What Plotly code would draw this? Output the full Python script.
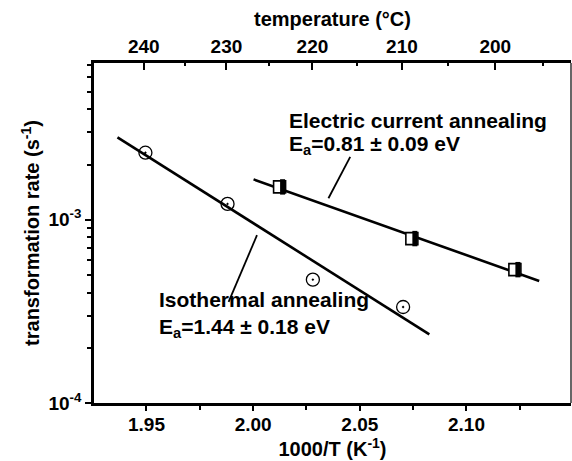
import plotly.graph_objects as go

# Isothermal annealing: rate vs inverse temperature
iso_inv_T = [1.9495, 1.988, 2.028, 2.0703]
iso_rate = [2.32e-3, 1.22e-3, 4.71e-4, 3.34e-4]
iso_fit_x = [1.9364, 2.0826]
iso_fit_y = [2.81e-3, 2.37e-4]

# Electric current annealing
ec_inv_T = [2.0124, 2.0744, 2.1227]
ec_rate = [1.51e-3, 7.89e-4, 5.34e-4]
ec_fit_x = [2.0002, 2.1341]
ec_fit_y = [1.66e-3, 4.63e-4]

# leader lines from labels to fits
ec_lead_x = [2.0455, 2.0353]
ec_lead_y = [2.20e-3, 1.31e-3]
iso_lead_x = [2.0018, 1.9885]
iso_lead_y = [8.23e-4, 3.56e-4]

x_ticks = [1.95, 2.00, 2.05, 2.10]
y_ticks = [1e-4, 1e-3, 1e-2]
y_ticktext = ["10<sup>-4</sup>", "10<sup>-3</sup>", "10<sup>-2</sup>"]
temp_ticks = [240, 230, 220, 210, 200]
temp_minor = [235, 225, 215, 205, 195]

X_RANGE = [1.9254, 2.149]
Y_RANGE = [-4, -2.145]


def inv_T(celsius):
    """1000/T in K^-1 for a temperature in degrees Celsius."""
    return 1000.0 / (celsius + 273.15)


W, H = 572, 461
M = dict(l=94, r=1, t=63, b=58)
plot_w = W - M["l"] - M["r"]
# small pixel shift used to draw the filled half of the square markers
shift = 3 * (X_RANGE[1] - X_RANGE[0]) / plot_w

FONT = "Liberation Sans, Arial, sans-serif"
BLACK = "#000000"

fig = go.Figure()

fig.add_trace(go.Scatter(x=iso_fit_x, y=iso_fit_y, mode="lines",
                         line=dict(color=BLACK, width=2.6), showlegend=False))
fig.add_trace(go.Scatter(x=ec_fit_x, y=ec_fit_y, mode="lines",
                         line=dict(color=BLACK, width=2.6), showlegend=False))
fig.add_trace(go.Scatter(x=ec_lead_x, y=ec_lead_y, mode="lines",
                         line=dict(color=BLACK, width=1.8), showlegend=False))
fig.add_trace(go.Scatter(x=iso_lead_x, y=iso_lead_y, mode="lines",
                         line=dict(color=BLACK, width=1.8), showlegend=False))

fig.add_trace(go.Scatter(x=iso_inv_T, y=iso_rate, mode="markers",
                         marker=dict(symbol="circle-open-dot", size=13, color=BLACK,
                                     line=dict(width=1.3, color=BLACK)),
                         showlegend=False))

fig.add_trace(go.Scatter(x=ec_inv_T, y=ec_rate, mode="markers",
                         marker=dict(symbol="square", size=12, color="white",
                                     line=dict(width=1.6, color=BLACK)),
                         showlegend=False))
fig.add_trace(go.Scatter(x=ec_inv_T, y=ec_rate, mode="markers", xaxis="x3",
                         marker=dict(symbol="line-ns", size=11, color=BLACK,
                                     line=dict(width=5, color=BLACK)),
                         showlegend=False))

# the temperature axis needs a trace of its own to be drawn
top_vals = [inv_T(t) for t in temp_ticks]
fig.add_trace(go.Scatter(x=top_vals, y=[1e-3] * len(top_vals), xaxis="x2",
                         mode="markers", marker=dict(opacity=0),
                         hoverinfo="skip", showlegend=False))

tick_font = dict(family=FONT, size=19, color=BLACK, weight="bold")
title_font = dict(family=FONT, size=20, color=BLACK, weight="bold")
ann_font = dict(family=FONT, size=21, color=BLACK, weight="bold")

fig.update_layout(
    width=W, height=H, margin=M,
    paper_bgcolor="white", plot_bgcolor="white",
    showlegend=False,
    xaxis=dict(
        range=X_RANGE, tickvals=x_ticks, tickformat=".2f",
        ticks="outside", ticklen=5, tickwidth=2, tickcolor=BLACK,
        ticklabelstandoff=-3,
        minor=dict(tickvals=[1.925, 1.975, 2.025, 2.075, 2.125], ticks="outside",
                   ticklen=4, tickwidth=2, tickcolor=BLACK),
        showline=True, linewidth=2.5, linecolor=BLACK, showgrid=False, zeroline=False,
        tickfont=tick_font,
        title=dict(text="1000/T (K<sup>-1</sup>)", font=title_font, standoff=2),
    ),
    yaxis=dict(
        type="log", range=Y_RANGE, tickvals=y_ticks, ticktext=y_ticktext,
        ticks="outside", ticklen=6, tickwidth=2, tickcolor=BLACK,
        minor=dict(tickvals=[k * 10.0 ** e for e in (-4, -3) for k in range(2, 10)],
                   ticks="outside", ticklen=4, tickwidth=2, tickcolor=BLACK),
        showline=True, linewidth=2.5, linecolor=BLACK, showgrid=False, zeroline=False,
        tickfont=tick_font,
        title=dict(text="transformation rate (s<sup>-1</sup>)", font=title_font, standoff=4),
    ),
    xaxis2=dict(
        overlaying="x", side="top", anchor="y", range=X_RANGE,
        tickvals=top_vals, ticktext=[str(t) for t in temp_ticks],
        ticks="inside", ticklen=7, tickwidth=2, tickcolor=BLACK,
        minor=dict(tickvals=[inv_T(t) for t in temp_minor], ticks="inside",
                   ticklen=3, tickwidth=2, tickcolor=BLACK),
        showline=True, linewidth=2.5, linecolor=BLACK, showgrid=False, zeroline=False,
        tickfont=tick_font,
        title=dict(text="temperature (°C)", font=title_font, standoff=4),
    ),
    xaxis3=dict(overlaying="x", anchor="y", visible=False,
                range=[X_RANGE[0] - shift, X_RANGE[1] - shift]),
)

# thin right-hand frame line
fig.add_shape(type="line", xref="paper", yref="paper", x0=1, x1=1, y0=0, y1=1,
              line=dict(color=BLACK, width=1.2))

annotations = [
    (2.0157, -2.459, "Electric current annealing"),
    (2.0157, -2.595, "E<sub>a</sub>=0.81 ± 0.09 eV"),
    (1.9547, -3.437, "Isothermal annealing"),
    (1.9547, -3.590, "E<sub>a</sub>=1.44 ± 0.18 eV"),
]
for ax_x, ax_y, txt in annotations:
    fig.add_annotation(x=ax_x, y=ax_y, xref="x", yref="y", text=txt,
                       showarrow=False, xanchor="left", yanchor="middle",
                       font=ann_font)

fig.write_html("out.html")
